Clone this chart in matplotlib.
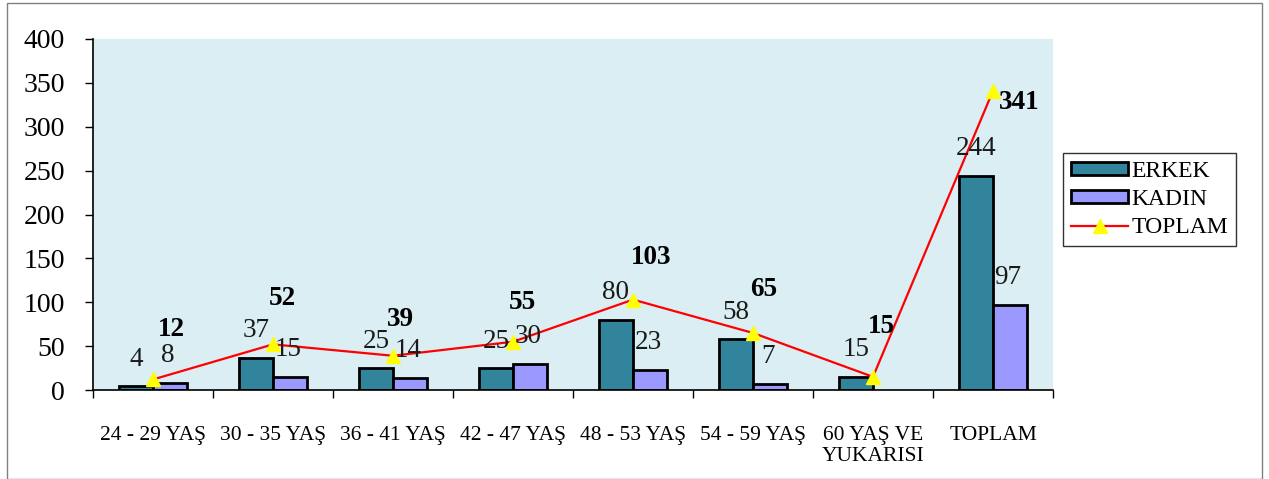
"""Recreate the ERKEK / KADIN / TOPLAM age-group chart."""

import matplotlib

matplotlib.use("Agg")
import matplotlib.pyplot as plt
from matplotlib.patches import Rectangle

# Data.
categories = [
    "24 - 29 YAŞ",
    "30 - 35 YAŞ",
    "36 - 41 YAŞ",
    "42 - 47 YAŞ",
    "48 - 53 YAŞ",
    "54 - 59 YAŞ",
    "60 YAŞ VE\nYUKARISI",
    "TOPLAM",
]
erkek = [4, 37, 25, 25, 80, 58, 15, 244]
kadin = [8, 15, 14, 30, 23, 7, 0, 97]
toplam = [12, 52, 39, 55, 103, 65, 15, 341]

# Manual label offsets (pixels) for the bold TOPLAM labels, as in the original.
toplam_offsets = [(18, 50), (9, 46), (7, 36), (9, 39), (18, 42), (11, 43), (8, 50), (26, -12)]

plt.rcParams["font.family"] = ["Liberation Serif", "DejaVu Serif"]

DPI = 100
W, H = 1269, 479
fig = plt.figure(figsize=(W / DPI, H / DPI), dpi=DPI)
ax = fig.add_axes([93 / W, (H - 390) / H, (1053 - 93) / W, (390 - 39) / H])
ax.set_facecolor("#DAEEF3")

x = list(range(len(categories)))
bw = 0.285
px2pt = 72 / DPI

# zero-height bars are left out so no flat edge line is drawn
ex = [i - bw / 2 for i, v in enumerate(erkek) if v]
kx = [i + bw / 2 for i, v in enumerate(kadin) if v]
h_erkek = ax.bar(ex, [v for v in erkek if v], bw, color="#31849B", edgecolor="black",
                 linewidth=2.0, label="ERKEK", zorder=2)
h_kadin = ax.bar(kx, [v for v in kadin if v], bw, color="#9999FF", edgecolor="black",
                 linewidth=2.0, label="KADIN", zorder=2)
h_top, = ax.plot(x, toplam, color="red", linewidth=1.6, marker="^", markersize=10,
                 markerfacecolor="yellow", markeredgecolor="yellow", label="TOPLAM", zorder=3)

for i, v in enumerate(erkek):
    if v:
        ax.annotate(str(v), (i - bw / 2, v), xytext=(0, 27 * px2pt), textcoords="offset points",
                    ha="center", va="center", fontsize=19.5, color="#1a1a1a", zorder=4)
for i, v in enumerate(kadin):
    if v:
        ax.annotate(str(v), (i + bw / 2, v), xytext=(-2 * px2pt, 27 * px2pt),
                    textcoords="offset points", ha="center", va="center", fontsize=19.5,
                    color="#1a1a1a", zorder=4)
for i, v in enumerate(toplam):
    dx, dy = toplam_offsets[i]
    ax.annotate(str(v), (i, v), xytext=(dx * px2pt, dy * px2pt), textcoords="offset points",
                ha="center", va="center", fontsize=19.5, fontweight="bold", zorder=4)

ax.set_xlim(-0.5, len(categories) - 0.5)
ax.set_ylim(0, 400)
ax.set_yticks(range(0, 401, 50))
ax.tick_params(axis="y", labelsize=20, length=6, width=1, direction="out", pad=14)

ax.set_xticks(x)
ax.set_xticklabels(categories, fontsize=15.5, linespacing=1.1)
ax.set_xticks([i - 0.5 for i in range(len(categories) + 1)], minor=True)
ax.tick_params(axis="x", which="major", length=0, pad=26)
ax.tick_params(axis="x", which="minor", length=6, width=1, direction="out")

for side in ("top", "right"):
    ax.spines[side].set_visible(False)
for side in ("left", "bottom"):
    ax.spines[side].set_linewidth(1.2)

leg = ax.legend([h_erkek, h_kadin, h_top], ["ERKEK", "KADIN", "TOPLAM"],
                loc="center left", bbox_to_anchor=(1063 / W, (H - 199.5) / H),
                bbox_transform=fig.transFigure, fontsize=17, frameon=True, fancybox=False,
                edgecolor="black", handlelength=2.4, handleheight=0.5, labelspacing=0.3,
                borderpad=0.35, handletextpad=0.15, borderaxespad=0)
leg.get_frame().set_linewidth(1.0)

# Thin outer frame round the chart area.
fig.patches.append(Rectangle((7 / W, 0), (1262 - 7) / W, (477 - 1) / H,
                             transform=fig.transFigure, fill=False,
                             edgecolor="#808080", linewidth=1.0))

fig.savefig("out.png", dpi=DPI)
